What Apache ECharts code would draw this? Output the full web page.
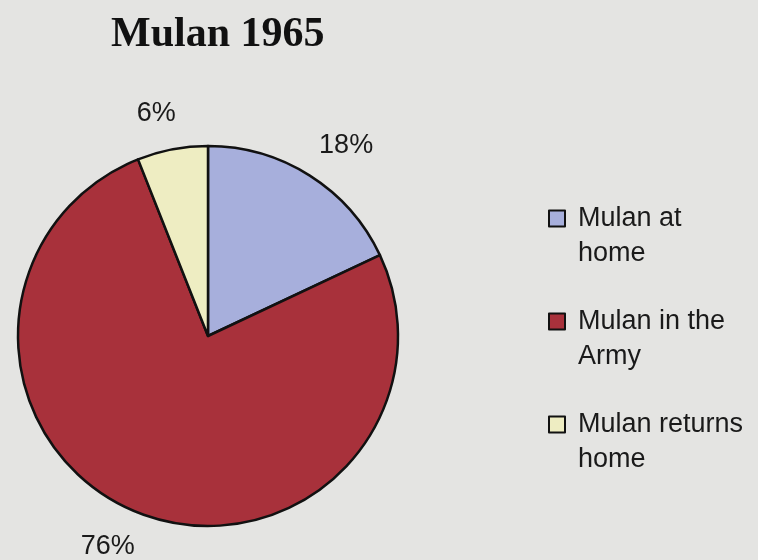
<!DOCTYPE html>
<html>
<head>
<meta charset="utf-8">
<script src="https://cdn.jsdelivr.net/npm/echarts@6/dist/echarts.min.js"></script>
<style>
  html, body { margin: 0; padding: 0; background: #e4e4e2; }
  #chart { width: 758px; height: 560px; }
</style>
</head>
<body>
<div id="chart"></div>
<script>
// data
const sliceNames = ['Mulan at home', 'Mulan in the Army', 'Mulan returns home'];
const legendLines = ['Mulan at\nhome', 'Mulan in the\nArmy', 'Mulan returns\nhome'];
const sliceValues = [18, 76, 6];
const sliceColors = ['#a7afdc', '#a8313b', '#eeedc2'];

const font = '"Liberation Sans", Arial, Helvetica, sans-serif';

let chartDom = document.getElementById('chart');
let myChart = echarts.init(chartDom, null, { renderer: 'canvas' });

const pieData = sliceNames.map(function (name, i) {
  return { name: name, value: sliceValues[i], itemStyle: { color: sliceColors[i] } };
});

let option = {
  backgroundColor: '#e4e4e2',
  animation: false,
  title: {
    text: 'Mulan 1965',
    left: 111,
    top: 14,
    padding: 0,
    textStyle: {
      fontFamily: '"Liberation Serif", "Times New Roman", serif',
      fontWeight: 'bold',
      fontSize: 42,
      color: '#111'
    }
  },
  legend: {
    orient: 'vertical',
    left: 548,
    top: 166,
    padding: 0,
    itemGap: -2,
    itemWidth: 16,
    itemHeight: 16,
    icon: 'rect',
    data: sliceNames,
    // empty first line so the marker sits beside the first text line
    formatter: function (name) {
      return ' \n' + legendLines[sliceNames.indexOf(name)];
    },
    textStyle: {
      fontFamily: font,
      fontSize: 27,
      lineHeight: 35,
      color: '#1a1a1a',
      padding: [0, 0, 0, 8]
    }
  },
  series: [
    {
      name: 'Mulan 1965',
      type: 'pie',
      center: [208, 336],
      radius: 190,
      startAngle: 90,
      clockwise: true,
      avoidLabelOverlap: false,
      data: pieData,
      itemStyle: {
        borderColor: '#111',
        borderWidth: 2.5
      },
      label: {
        show: true,
        position: 'outside',
        formatter: '{c}%',
        fontFamily: font,
        fontSize: 27,
        color: '#1a1a1a'
      },
      labelLine: {
        show: false,
        length: 36,
        length2: -15
      },
      emphasis: { disabled: true }
    }
  ]
};

myChart.setOption(option);
window.addEventListener('resize', () => {
  myChart.resize();
});
</script>
</body>
</html>
